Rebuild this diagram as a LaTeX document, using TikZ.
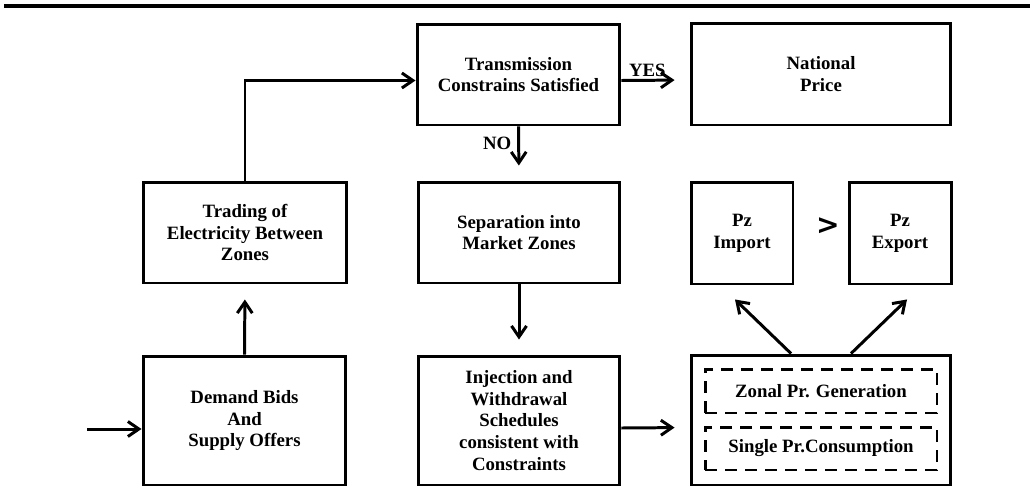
\documentclass[tikz,border=0pt]{standalone}
\usepackage{fontspec}
\setmainfont{Liberation Serif}
\newfontfamily\gtfont{DejaVu Sans}
\usetikzlibrary{arrows.meta}

\begin{document}
\begin{tikzpicture}[x=0.02cm, y=-0.02cm,
    box/.style={draw, line width=1.7pt, align=center, inner sep=0pt,
      font=\bfseries\fontsize{10.7}{12.4}\selectfont},
    dbox/.style={box, dash pattern=on 0.24cm off 0.16cm},
    arr/.style={line width=1.7pt, -{Straight Barb[length=0.22cm,width=0.3cm]}},
    gap/.style={shorten >=0.3cm},
    lbl/.style={font=\bfseries\fontsize{10.7}{12.4}\selectfont}]
    \useasboundingbox (0,0) rectangle (1030,487);
    \draw[line width=2pt] (4,6) -- (1030,6);

    % top row
    \node[box, minimum width=4.06cm, minimum height=2.02cm] (trans) at (518.5,74.5) {Transmission\\Constrains Satisfied};
    \node[box, minimum width=5.2cm, minimum height=2.04cm] (natl) at (821,74) {National\\Price};

    % middle row
    \node[box, minimum width=4.08cm, minimum height=2.02cm] (trade) at (245,232.5) {Trading of\\Electricity Between\\Zones};
    \node[box, minimum width=4.04cm, minimum height=2.02cm] (sep) at (519,232.5) {Separation into\\Market Zones};
    \node[box, minimum width=2.04cm, minimum height=2.04cm] (imp) at (742,233) {Pz\\Import};
    \node[box, minimum width=2.04cm, minimum height=2.04cm] (exp) at (900,233) {Pz\\Export};
    \node[font=\gtfont\bfseries\fontsize{16}{16}\selectfont] (gt) at (828,226) {>};

    % bottom row
    \node[box, minimum width=4.06cm, minimum height=2.58cm] (demand) at (244.5,420.5) {Demand Bids\\And\\Supply Offers};
    \node[box, minimum width=4.04cm, minimum height=2.58cm] (inj) at (519,420.5) {Injection and\\Withdrawal\\Schedules\\consistent with\\Constraints};
    \node[box, minimum width=5.2cm, minimum height=2.6cm] (cont) at (821,420) {};
    \node[dbox, minimum width=4.64cm, minimum height=0.88cm] (zonal) at (821,391) {Zonal Pr. Generation};
    \node[dbox, minimum width=4.64cm, minimum height=0.86cm] (single) at (821,448.5) {Single Pr.Consumption};

    % connectors
    \coordinate (in) at (87,429);
    \draw[arr] (in) -- (in -| demand.west);
    \draw[arr, gap] (demand.north) -- (trade.south);
    \draw[arr] (trade.north) |- ([yshift=-0.12cm]trans.west);
    \draw[arr, gap] ([yshift=-0.12cm]trans.east) -- node[lbl, above, pos=0.38, inner sep=1pt] {YES} ([yshift=-0.12cm]natl.west);
    \draw[arr, gap] (trans.south) -- node[lbl, left, pos=0.32] {NO} (sep.north);
    \draw[arr, gap] (sep) -- (inj);
    \draw[arr, gap] ([yshift=-0.15cm]inj.east) -- ([yshift=-0.15cm]cont.west);
    \draw[arr] ([xshift=-0.6cm]cont.north) -- ([xshift=-0.14cm,yshift=-0.28cm]imp.south);
    \draw[arr] ([xshift=0.6cm]cont.north) -- ([xshift=0.14cm,yshift=-0.28cm]exp.south);
\end{tikzpicture}
\end{document}
